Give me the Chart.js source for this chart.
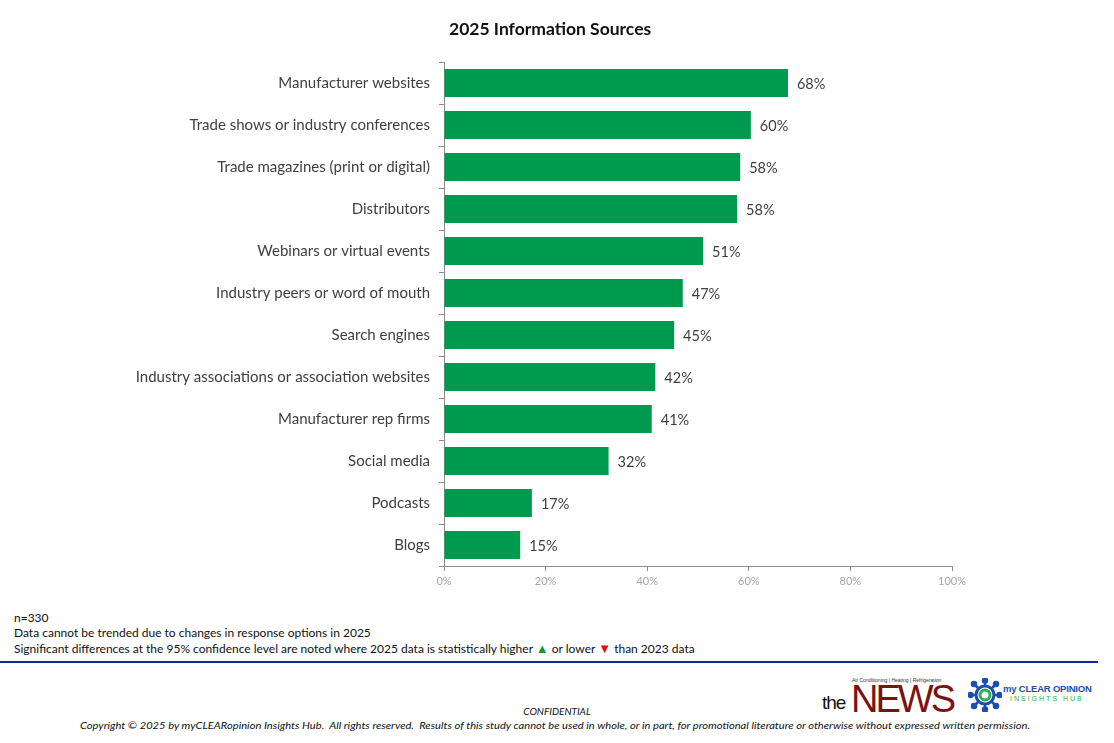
<!DOCTYPE html>
<html>
<head>
<meta charset="utf-8">
<script src="https://cdn.jsdelivr.net/npm/chart.js@4.4.1/dist/chart.umd.min.js"></script>
<style>
  body { margin: 0; background: #fff; font-family: Lato, "Open Sans", sans-serif; }
  #wrap { position: relative; width: 1114px; height: 743px; overflow: hidden; }
  #chartBox { position: absolute; left: 0; top: 0; width: 1114px; height: 600px; }
  #title { position: absolute; left: 449px; top: 18px; width: 200px; text-align: center; font-size: 17.5px; font-weight: bold; color: #111; white-space: nowrap; }
  .note { position: absolute; left: 14px; font-size: 12px; color: #111; white-space: nowrap; }
  .up { color: #0a9a3a; font-size: 13px; } .down { color: #e01010; font-size: 13px; }
  #rule { position: absolute; left: 0; top: 661px; width: 1098px; height: 2px; background: #0d2a8c; }
  #conf { position: absolute; left: 0; width: 1114px; top: 705px; text-align: center; font-size: 10px; font-style: italic; color: #111; }
  #copy { position: absolute; left: 80px; top: 719px; font-size: 10px; font-style: italic; color: #111; white-space: nowrap; transform-origin: left top; }
  #news { position: absolute; left: 822px; top: 676px; width: 140px; height: 40px; }
  #news .small { position: absolute; left: 30px; top: 1px; font-size: 5px; color: #333; font-family: "Liberation Sans", sans-serif; }
  #news .the { position: absolute; left: 0; top: 16px; font-size: 19px; color: #111; font-family: "Liberation Sans", sans-serif; letter-spacing: -1px; }
  #news .big { position: absolute; left: 29px; top: 4px; font-size: 38px; color: #7b1212; font-family: "Liberation Sans", sans-serif; letter-spacing: -3px; line-height: 38px; }
  #mco { position: absolute; left: 968px; top: 676px; width: 140px; height: 36px; }
  #mco .t1 { position: absolute; left: 35px; top: 7px; font-size: 9.5px; font-weight: bold; color: #1a4fb0; font-family: "Liberation Sans", sans-serif; white-space: nowrap; letter-spacing: -0.2px; }
  #mco .t2 { position: absolute; left: 42px; top: 19px; font-size: 7px; color: #2ab04a; letter-spacing: 2px; font-family: "Liberation Sans", sans-serif; white-space: nowrap; }
</style>
</head>
<body>
<div id="wrap">
  <div id="chartBox"><canvas id="grafico"></canvas></div>
  <div id="title">2025 Information Sources</div>

  <div class="note" style="top:610px">n=330</div>
  <div class="note" style="top:625px">Data cannot be trended due to changes in response options in 2025</div>
  <div class="note" style="top:640px">Significant differences at the 95% confidence level are noted where 2025 data is statistically higher <span class="up">&#9650;</span> or lower <span class="down">&#9660;</span> than 2023 data</div>

  <div id="rule"></div>

  <div id="news">
    <div class="small">Air Conditioning | Heating | Refrigeration</div>
    <div class="the">the</div>
    <div class="big">NEWS</div>
  </div>
  <div id="mco">
    <svg width="34" height="34" viewBox="0 0 34 34" style="position:absolute;left:0;top:2px">
      <g stroke="#1a4fb0" stroke-width="2.5" fill="#1a4fb0">
        <line x1="17" y1="2" x2="17" y2="32"/><line x1="2" y1="17" x2="32" y2="17"/>
        <line x1="6" y1="6" x2="28" y2="28"/><line x1="28" y1="6" x2="6" y2="28"/>
        <circle cx="17" cy="2.5" r="2"/><circle cx="17" cy="31.5" r="2"/>
        <circle cx="2.5" cy="17" r="2"/><circle cx="31.5" cy="17" r="2"/>
        <circle cx="6" cy="6" r="2"/><circle cx="28" cy="28" r="2"/>
        <circle cx="28" cy="6" r="2"/><circle cx="6" cy="28" r="2"/>
      </g>
      <circle cx="17" cy="17" r="9" fill="#fff" stroke="#1a4fb0" stroke-width="3"/>
      <circle cx="17" cy="17" r="5" fill="#fff" stroke="#2ab04a" stroke-width="3"/>
    </svg>
    <div class="t1">my CLEAR OPINION</div>
    <div class="t2">INSIGHTS HUB</div>
  </div>

  <div id="conf">CONFIDENTIAL</div>
  <div id="copy">Copyright &copy; 2025 by myCLEARopinion Insights Hub.&nbsp; All rights reserved.&nbsp; Results of this study cannot be used in whole, or in part, for promotional literature or otherwise without expressed written permission.</div>
</div>

<script>
const categories = [
    'Manufacturer websites',
    'Trade shows or industry conferences',
    'Trade magazines (print or digital)',
    'Distributors',
    'Webinars or virtual events',
    'Industry peers or word of mouth',
    'Search engines',
    'Industry associations or association websites',
    'Manufacturer rep firms',
    'Social media',
    'Podcasts',
    'Blogs'
];
// bar lengths, labels show them rounded
const values2025 = [67.7, 60.4, 58.3, 57.7, 51.0, 47.0, 45.3, 41.6, 40.9, 32.4, 17.3, 15.0];
const xTicks = [0, 20, 40, 60, 80, 100];

// writes the % next to each bar
const valueLabels = {
    id: 'valueLabels',
    afterDatasetsDraw(chart) {
        const ctx = chart.ctx;
        const meta = chart.getDatasetMeta(0);
        ctx.save();
        ctx.font = '14.5px Lato, "Open Sans", sans-serif';
        ctx.fillStyle = '#404040';
        ctx.textBaseline = 'middle';
        meta.data.forEach(function(bar, i) {
            ctx.fillText(Math.round(values2025[i]) + '%', bar.x + 9, bar.y + 1);
        });
        ctx.restore();
    }
};

document.addEventListener("DOMContentLoaded", function() {
    const copy = document.getElementById('copy');
    const w = copy.getBoundingClientRect().width;
    copy.style.transform = 'scaleX(' + (950 / w) + ')';

    const ctx = document.getElementById('grafico').getContext('2d');
    new Chart(ctx, {
        type: 'bar',
        data: {
            labels: categories,
            datasets: [{
                label: '2025',
                data: values2025,
                backgroundColor: '#009a4e',
                borderWidth: 0,
                categoryPercentage: 1,
                barPercentage: 0.67
            }]
        },
        options: {
            indexAxis: 'y',
            responsive: true,
            maintainAspectRatio: false,
            animation: false,
            layout: { padding: { left: 0, right: 162, top: 62, bottom: 0 } },
            plugins: {
                legend: { display: false },
                tooltip: { enabled: false },
                title: { display: false }
            },
            scales: {
                x: {
                    min: 0,
                    max: 100,
                    afterBuildTicks: function(scale) {
                        scale.ticks = xTicks.map(v => ({ value: v }));
                    },
                    afterFit: function(scale) { scale.height = 34; },
                    border: { display: true, color: '#8c8c8c', width: 1 },
                    grid: { drawOnChartArea: false, drawTicks: true, tickLength: 5, color: '#8c8c8c' },
                    ticks: {
                        color: '#a6a6a6',
                        padding: 4,
                        font: { family: 'Lato, "Open Sans", sans-serif', size: 11 },
                        callback: v => v + '%'
                    }
                },
                y: {
                    afterFit: function(scale) { scale.width = 444; },
                    border: { display: true, color: '#8c8c8c', width: 1 },
                    grid: { drawOnChartArea: false, drawTicks: true, tickLength: 5, color: '#8c8c8c', offset: true },
                    ticks: {
                        color: '#404040',
                        padding: 9,
                        font: { family: 'Lato, "Open Sans", sans-serif', size: 15 }
                    }
                }
            }
        },
        plugins: [valueLabels]
    });
});
</script>
</body>
</html>
